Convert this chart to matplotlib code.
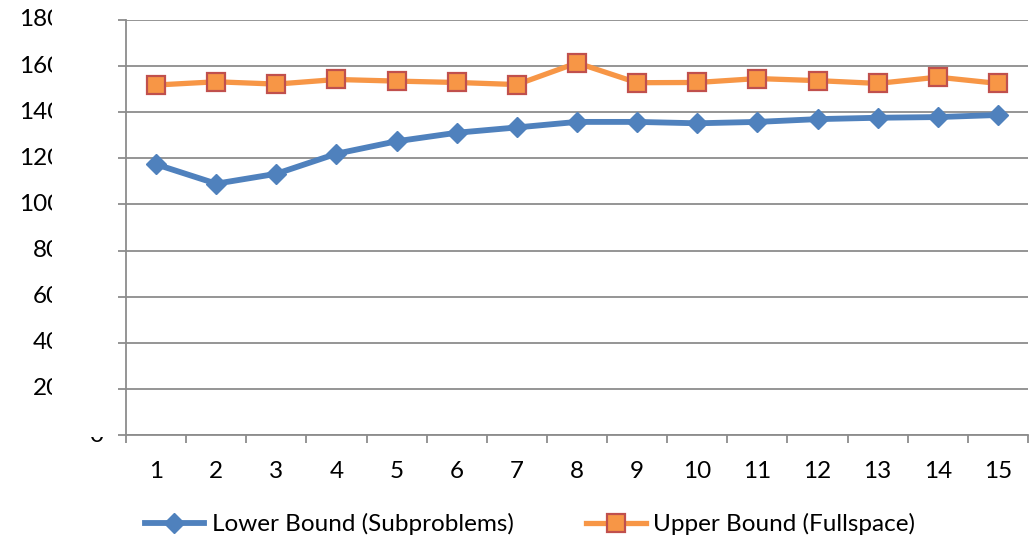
import matplotlib.pyplot as plt
from matplotlib.transforms import Bbox, TransformedBbox, blended_transform_factory
import numpy as np

plt.rcParams["font.family"] = ["Lato", "DejaVu Sans"]

iterations = np.arange(1, 16)
lower_bound = [117.4, 109.0, 113.3, 122.0, 127.4, 131.1, 133.4, 135.8, 135.8,
               135.2, 135.8, 137.0, 137.6, 137.9, 138.8]
upper_bound = [151.8, 153.2, 152.2, 154.2, 153.5, 152.9, 152.0, 161.4, 152.8,
               152.9, 154.6, 153.7, 152.5, 155.2, 152.5]
y_ticks = np.arange(0, 181, 20)

blue = "#4F81BD"
orange = "#F79646"
red = "#C0504D"
grey = "#8C8C8C"
fs = 17.5

W, H = 1033, 539
fig = plt.figure(figsize=(W / 100, H / 100), dpi=100)
ax = fig.add_axes([126 / W, (H - 435) / H, 902 / W, 415 / H])

ax.plot(iterations, lower_bound, color=blue, lw=4.2, marker="D", ms=10.5,
        mfc=blue, mec=blue, label="Lower Bound (Subproblems)", zorder=3)
ax.plot(iterations, upper_bound, color=orange, lw=3.8, marker="s", ms=13,
        mfc=orange, mec=red, mew=1.6, label="Upper Bound (Fullspace)", zorder=4)

ax.set_xlim(0.5, 15.5)
ax.set_ylim(0, 180)
ax.set_yticks(y_ticks)
ax.set_xticks(iterations)
ax.set_xticks(np.arange(0.5, 16, 1), minor=True)
ax.tick_params(axis="x", which="major", length=0, pad=19, labelsize=fs)
ax.tick_params(axis="x", which="minor", length=6, width=1.3, color=grey)
ax.tick_params(axis="y", length=6, width=1.3, color=grey, labelleft=False)
ax.yaxis.grid(True, color=grey, lw=1.3)
ax.set_axisbelow(True)
for side in ("top", "right"):
    ax.spines[side].set_visible(False)
for side in ("left", "bottom"):
    ax.spines[side].set_color(grey)
    ax.spines[side].set_linewidth(1.3)

# y labels sit in a narrow box that cuts off their last digit
trans = blended_transform_factory(fig.transFigure, ax.transData)
left_clip = TransformedBbox(Bbox([[0, 0], [52 / W, 1]]), fig.transFigure)
for v in y_ticks[1:]:
    t = ax.text(61 / W, v, f"{v}", transform=trans, ha="right", va="center",
                fontsize=fs, clip_on=True)
    t.set_clip_box(left_clip)
zero_clip = TransformedBbox(Bbox([[0, 0], [1, (H - 437) / H]]), fig.transFigure)
t = ax.text(96 / W, 0, "0", transform=trans, ha="center", va="center",
            fontsize=fs, clip_on=True)
t.set_clip_box(zero_clip)

fig.legend(loc="center", bbox_to_anchor=(0.513, (H - 524) / H), ncol=2,
           frameon=False, fontsize=fs, handlelength=2.45, handletextpad=0.3,
           columnspacing=3.0)

fig.savefig("out.png", dpi=100)
